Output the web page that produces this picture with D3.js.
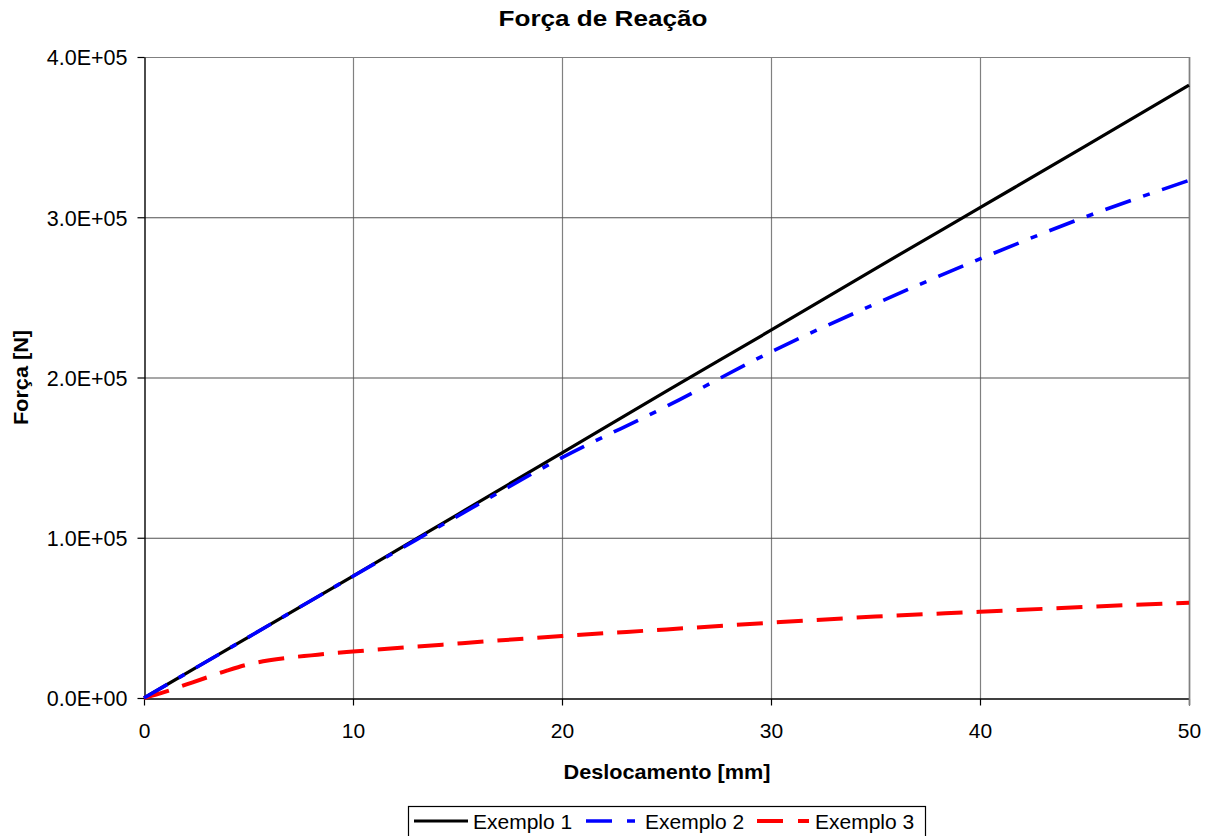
<!DOCTYPE html>
<html>
<head>
<meta charset="utf-8">
<script src="https://cdn.jsdelivr.net/npm/d3@7"></script>
<style>
  html, body { margin: 0; padding: 0; background: #fff; }
  svg { display: block; font-family: "Liberation Sans", Arial, sans-serif; }
</style>
</head>
<body>
<svg id="chart" width="1210" height="836"></svg>
<script>
// ---- data ----
const seriesNames = ["Exemplo 1", "Exemplo 2", "Exemplo 3"];
const x1 = [0, 5, 10, 15, 20, 25, 30, 35, 40, 45, 50];
const y1 = [0, 38000, 76000, 114500, 153000, 191500, 229500, 268000, 306000, 344000, 382500];
const x2 = [0, 5, 10, 13, 15, 20, 25, 30, 35, 40, 45, 50];
const y2 = [0, 38000, 76000, 98500, 113500, 150000, 182000, 216000, 246000, 274000, 300000, 323000];
const x3 = [0, 1, 2, 3, 4, 5, 6, 7, 8, 9, 10, 15, 20, 25, 30, 35, 40, 45, 50];
const y3 = [0, 3800, 8300, 12800, 17200, 21000, 23500, 25300, 26600, 27900, 29000, 34000, 38700, 42800, 47000, 50800, 53800, 56800, 59500];
const xTicks = [0, 10, 20, 30, 40, 50];
const yTicks = [0, 100000, 200000, 300000, 400000];
const titleText = "Força de Reação";
const xLabel = "Deslocamento [mm]";
const yLabel = "Força [N]";

// ---- layout ----
const L = 144, R = 1189, T = 57, B = 698;
const svg = d3.select("#chart");
const x = d3.scaleLinear().domain([0, 50]).range([L, R]);
const y = d3.scaleLinear().domain([0, 400000]).range([B, T]);

const fmtE = d => {
  if (d === 0) return "0.0E+00";
  const e = Math.floor(Math.log10(Math.abs(d)));
  const m = d / Math.pow(10, e);
  return m.toFixed(1) + "E" + (e >= 0 ? "+" : "-") + String(Math.abs(e)).padStart(2, "0");
};

// grid
svg.append("g").selectAll("line").data(xTicks.slice(1)).join("line")
  .attr("x1", d => x(d) + 0.5).attr("x2", d => x(d) + 0.5)
  .attr("y1", T).attr("y2", B)
  .attr("stroke", "#808080").attr("stroke-width", 1.2);
svg.append("g").selectAll("line").data(yTicks.slice(1)).join("line")
  .attr("x1", L).attr("x2", R)
  .attr("y1", d => y(d) + 0.5).attr("y2", d => y(d) + 0.5)
  .attr("stroke", d => d === 400000 ? "#808080" : "#505050").attr("stroke-width", 1.2);

// axes
const xAxis = d3.axisBottom(x).tickValues(xTicks).tickSize(7).tickSizeOuter(0).tickFormat(d3.format("d"));
const gx = svg.append("g").attr("transform", `translate(0,${B + 0.5})`).call(xAxis);
gx.select(".domain").attr("stroke", "#000").attr("stroke-width", 1.4);
gx.selectAll(".tick line").attr("stroke", "#000").attr("stroke-width", 1.2);
gx.selectAll(".tick text").attr("font-size", 21).attr("fill", "#000")
  .attr("font-family", "Liberation Sans, Arial, sans-serif").attr("dy", null).attr("y", 39);

const yAxis = d3.axisLeft(y).tickValues(yTicks).tickSize(7).tickSizeOuter(0).tickFormat(fmtE);
const gy = svg.append("g").attr("transform", `translate(${L + 0.5},0)`).call(yAxis);
gy.select(".domain").attr("stroke", "#000").attr("stroke-width", 1.4);
gy.selectAll(".tick line").attr("stroke", "#000").attr("stroke-width", 1.2);
gy.selectAll(".tick text").attr("font-size", 21.5).attr("fill", "#000")
  .attr("font-family", "Liberation Sans, Arial, sans-serif").attr("x", -17).attr("dy", "0.36em");

// right border
svg.append("line").attr("x1", R + 0.5).attr("x2", R + 0.5).attr("y1", T).attr("y2", B + 7)
  .attr("stroke", "#808080").attr("stroke-width", 1.6);

// series
const line = d3.line().x(d => x(d[0])).y(d => y(d[1])).curve(d3.curveMonotoneX);
const s1 = x1.map((v, i) => [v, y1[i]]);
const s2 = x2.map((v, i) => [v, y2[i]]);
const s3 = x3.map((v, i) => [v, y3[i]]);
const styles = [
  { color: "#000000", width: 3.2, dash: null },
  { color: "#0000ff", width: 3.6, dash: "27,13,7,13" },
  { color: "#ff0000", width: 4, dash: "26,14" }
];
const plot = svg.append("g");
[s1, s3, s2].forEach((s, k) => {
  const idx = [0, 2, 1][k];
  const st = styles[idx];
  plot.append("path").datum(s).attr("d", line)
    .attr("fill", "none").attr("stroke", st.color).attr("stroke-width", st.width)
    .attr("stroke-dasharray", st.dash).attr("stroke-linejoin", "round");
});

// titles
svg.append("text").attr("x", 603).attr("y", 26).attr("text-anchor", "middle")
  .attr("font-weight", "bold").attr("font-size", 22)
  .attr("textLength", 209).attr("lengthAdjust", "spacingAndGlyphs").text(titleText);
svg.append("text").attr("x", 667).attr("y", 779).attr("text-anchor", "middle")
  .attr("font-weight", "bold").attr("font-size", 21)
  .attr("textLength", 207).attr("lengthAdjust", "spacingAndGlyphs").text(xLabel);
svg.append("text").attr("transform", `translate(28,${(T + B) / 2}) rotate(-90)`).attr("text-anchor", "middle")
  .attr("font-weight", "bold").attr("font-size", 21)
  .attr("textLength", 95).attr("lengthAdjust", "spacingAndGlyphs").text(yLabel);

// legend
const lg = svg.append("g");
lg.append("rect").attr("x", 408.5).attr("y", 806.5).attr("width", 517).attr("height", 40)
  .attr("fill", "#fff").attr("stroke", "#000").attr("stroke-width", 1.2);
const legendItems = [
  { sx: 414, ex: 468, tx: 473 },
  { sx: 586, ex: 635, tx: 645 },
  { sx: 757, ex: 809, tx: 815 }
];
legendItems.forEach((it, i) => {
  const st = styles[i];
  lg.append("line").attr("x1", it.sx).attr("x2", it.ex).attr("y1", 821).attr("y2", 821)
    .attr("stroke", st.color).attr("stroke-width", st.width).attr("stroke-dasharray", i === 1 ? "26,15,8,13" : i === 2 ? "26,15" : null);
  lg.append("text").attr("x", it.tx).attr("y", 829).attr("font-size", 21).text(seriesNames[i]);
});
</script>
</body>
</html>
